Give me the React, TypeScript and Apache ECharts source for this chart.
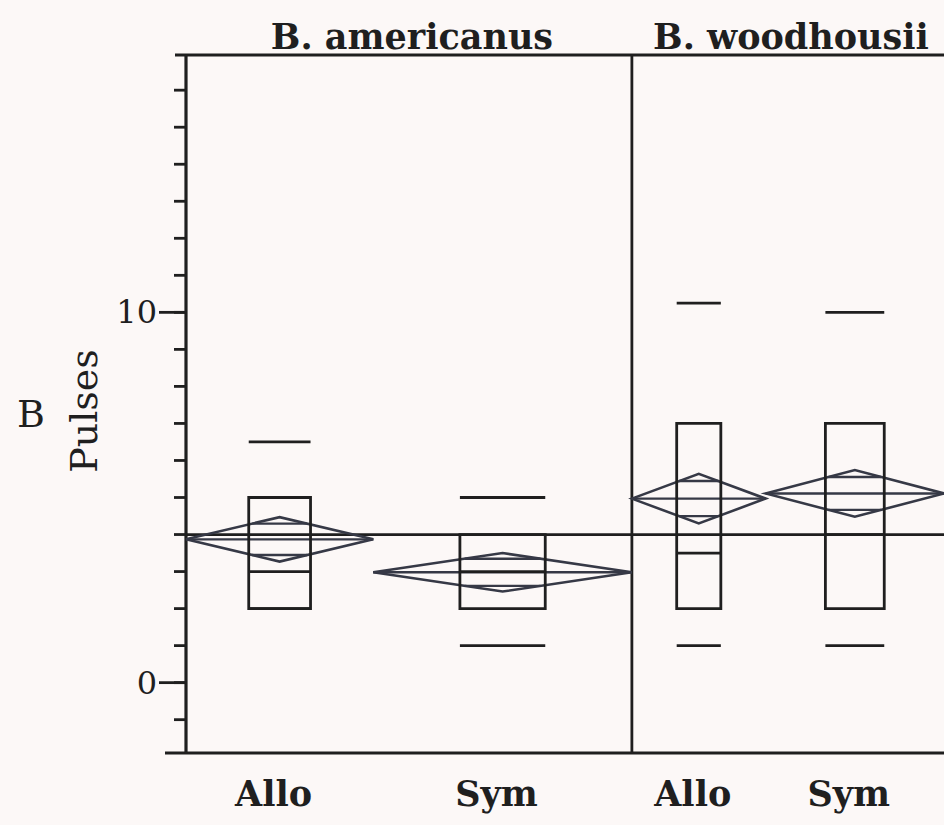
import React, { useEffect, useRef } from 'react';
import * as echarts from 'echarts';

// ---- data ----
const speciesNames = ['B. americanus', 'B. woodhousii'];
const groupSpecies = [0, 0, 1, 1];
const groupLabels = ['Allo', 'Sym', 'Allo', 'Sym'];
const groupN = [21, 29, 15, 20];
const q10 = [2.0, 1.0, 1.0, 1.0];
const q25 = [2.0, 2.0, 2.0, 2.0];
const medians = [3.0, 3.0, 3.5, 4.0];
const q75 = [5.0, 4.0, 7.0, 7.0];
const q90 = [6.5, 5.0, 10.25, 10.0];
const means = [3.87, 2.98, 4.97, 5.11];
const ciHalf = [0.6, 0.52, 0.67, 0.63];
const grandMean = 4.0;
const minorTicks = [-1, 0, 1, 2, 3, 4, 5, 6, 7, 8, 9, 10, 11, 12, 13, 14, 15, 16];
const majorTicks = [0, 10];
const yMin = -1.9;
const yMax = 16.95;
const yTitle = 'Pulses';
const panelLetter = 'B';

const INK = '#1f1f1f';
const DIAMOND = '#363946';
const SERIF = '"DejaVu Serif", serif';

export default function App() {
  const ref = useRef<HTMLDivElement>(null);

  useEffect(() => {
    if (!ref.current) return;
    const chart = echarts.init(ref.current, undefined, { renderer: 'svg' });

    const starts: number[] = [];
    let acc = 0;
    groupN.forEach((n) => { starts.push(acc); acc += n; });
    const totalN = acc;
    const speciesStart = speciesNames.map((_, s) => {
      const idx = groupSpecies.indexOf(s);
      return starts[idx];
    });
    const speciesEnd = speciesNames.map((_, s) => {
      let e = 0;
      groupSpecies.forEach((gs, i) => { if (gs === s) e = starts[i] + groupN[i]; });
      return e;
    });

    const boxData = groupN.map((n, i) => [starts[i], n, q10[i], q25[i], medians[i], q75[i], q90[i]]);
    const diamondData = groupN.map((n, i) => [starts[i], n, means[i], ciHalf[i]]);
    const labelData = groupN.map((n, i) => [starts[i], n]);
    const titleData = speciesNames.map((_, s) => [speciesStart[s], speciesEnd[s]]);

    const line = (x1: number, y1: number, x2: number, y2: number, stroke: string, lw: number) => ({
      type: 'line',
      shape: { x1, y1, x2, y2 },
      style: { stroke, lineWidth: lw },
    });
    const text = (x: number, y: number, t: string, size: number, weight: string, align: string) => ({
      type: 'text',
      style: {
        x, y, text: t,
        fontSize: size, fontFamily: SERIF, fontWeight: weight,
        fill: INK,
        align, verticalAlign: 'middle',
        textAlign: align, textVerticalAlign: 'middle',
      },
    });

    const option: any = {
      animation: false,
      backgroundColor: '#fcf8f7',
      grid: { left: 186, right: 0, top: 55, bottom: 72, containLabel: false },
      xAxis: { type: 'value', min: 0, max: totalN, show: false },
      yAxis: { type: 'value', min: yMin, max: yMax, show: false },
      graphic: [
        {
          type: 'text', x: 84, y: 411, rotation: Math.PI / 2,
          style: {
            text: yTitle, fontSize: 38, fontFamily: SERIF, fill: INK,
            align: 'center', verticalAlign: 'middle', textAlign: 'center', textVerticalAlign: 'middle',
          },
        },
        {
          type: 'text', x: 31, y: 414,
          style: {
            text: panelLetter, fontSize: 38, fontFamily: SERIF, fill: INK,
            align: 'center', verticalAlign: 'middle', textAlign: 'center', textVerticalAlign: 'middle',
          },
        },
      ],
      series: [
        {
          type: 'custom',
          name: 'frame',
          clip: false,
          data: [[0]],
          renderItem: (_p: any, api: any) => {
            const tl = api.coord([0, yMax]);
            const br = api.coord([totalN, yMin]);
            const children: any[] = [];
            const g0 = api.coord([0, grandMean]);
            children.push(line(g0[0], g0[1], br[0] + 2, g0[1], INK, 2.8));
            children.push(line(tl[0] - 11, tl[1], br[0] + 2, tl[1], INK, 3.2));
            children.push(line(tl[0] - 21, br[1], br[0] + 2, br[1], INK, 3.2));
            children.push(line(tl[0], tl[1], tl[0], br[1], INK, 3.2));
            speciesEnd.slice(0, -1).forEach((e) => {
              const p = api.coord([e, 0]);
              children.push(line(p[0], tl[1], p[0], br[1], INK, 2.8));
            });
            minorTicks.forEach((v) => {
              const p = api.coord([0, v]);
              children.push(line(p[0] - 12, p[1], p[0], p[1], INK, 2.8));
            });
            majorTicks.forEach((v) => {
              const p = api.coord([0, v]);
              children.push(line(p[0] - 27, p[1], p[0], p[1], INK, 2.8));
              children.push(text(p[0] - 29, p[1], String(v), 32, 'normal', 'right'));
            });
            return { type: 'group', children };
          },
        },
        {
          type: 'custom',
          name: 'diamonds',
          clip: false,
          data: diamondData,
          renderItem: (_p: any, api: any) => {
            const s = api.value(0), n = api.value(1), m = api.value(2), ci = api.value(3);
            const c = s + n / 2;
            const L = api.coord([s, m]);
            const R = api.coord([s + n, m]);
            const T = api.coord([c, m + ci]);
            const B = api.coord([c, m - ci]);
            const ov = ci / Math.SQRT2;
            const hw = (n / 2) * (1 - 1 / Math.SQRT2);
            const children: any[] = [
              {
                type: 'polygon',
                shape: { points: [L, T, R, B] },
                style: { fill: 'none', stroke: DIAMOND, lineWidth: 2.6 },
              },
              line(L[0], L[1], R[0], R[1], DIAMOND, 2.4),
            ];
            [m + ov, m - ov].forEach((v) => {
              const a = api.coord([c - hw, v]);
              const b = api.coord([c + hw, v]);
              children.push(line(a[0], a[1], b[0], b[1], DIAMOND, 2.4));
            });
            return { type: 'group', children };
          },
        },
        {
          type: 'custom',
          name: 'quantile boxes',
          clip: false,
          data: boxData,
          renderItem: (_p: any, api: any) => {
            const s = api.value(0), n = api.value(1);
            const c = s + n / 2;
            const hw = n * 0.165;
            const xl = api.coord([c - hw, 0])[0];
            const xr = api.coord([c + hw, 0])[0];
            const y = (v: number) => api.coord([c, v])[1];
            const v10 = api.value(2), v25 = api.value(3), v50 = api.value(4), v75 = api.value(5), v90 = api.value(6);
            return {
              type: 'group',
              children: [
                {
                  type: 'rect',
                  shape: { x: xl, y: y(v75), width: xr - xl, height: y(v25) - y(v75) },
                  style: { fill: 'none', stroke: INK, lineWidth: 2.8 },
                },
                line(xl, y(v50), xr, y(v50), INK, 2.8),
                line(xl, y(v10), xr, y(v10), INK, 2.8),
                line(xl, y(v90), xr, y(v90), INK, 2.8),
              ],
            };
          },
        },
        {
          type: 'custom',
          name: 'group labels',
          clip: false,
          data: labelData,
          renderItem: (p: any, api: any) => {
            const s = api.value(0), n = api.value(1);
            const pt = api.coord([s + n / 2, yMin]);
            return text(pt[0] - 6, pt[1] + 40, groupLabels[p.dataIndex], 35, 'bold', 'center');
          },
        },
        {
          type: 'custom',
          name: 'species titles',
          clip: false,
          data: titleData,
          renderItem: (p: any, api: any) => {
            const a = api.value(0), b = api.value(1);
            const pt = api.coord([(a + b) / 2, yMax]);
            return text(pt[0] + 3, pt[1] - 19, speciesNames[p.dataIndex], 35, 'bold', 'center');
          },
        },
      ],
    };

    chart.setOption(option);
    return () => chart.dispose();
  }, []);

  return (
    <div
      ref={ref}
      style={{ position: 'fixed', left: 0, top: 0, width: 944, height: 825 }}
    />
  );
}
